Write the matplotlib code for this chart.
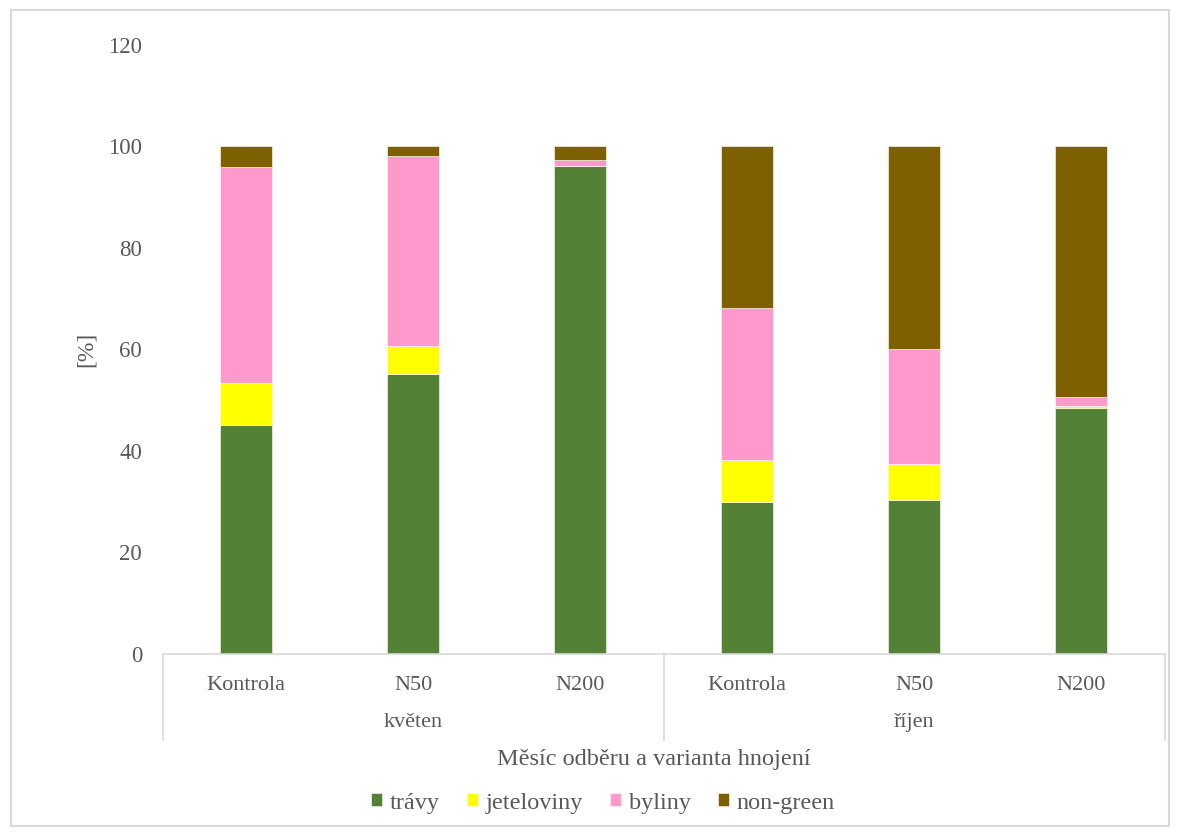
import numpy as np
import matplotlib.pyplot as plt
from matplotlib.patches import Rectangle

plt.rcParams['font.family'] = ['Liberation Serif', 'DejaVu Serif']

# skupiny a varianty hnojeni
mesice = ['květen', 'říjen']
varianty = ['Kontrola', 'N50', 'N200']
labels = varianty * 2

# podil skupin [%]
travy = [45.2, 55.2, 96.2, 30.0, 30.4, 48.5]
jeteloviny = [8.1, 5.5, 0.0, 8.3, 7.1, 0.4]
byliny = [42.6, 37.5, 1.1, 29.9, 22.5, 1.8]
nongreen = [4.1, 1.8, 2.7, 31.8, 40.0, 49.3]

series = [travy, jeteloviny, byliny, nongreen]
names = ['trávy', 'jeteloviny', 'byliny', 'non-green']
colors = ['#538135', '#FFFF00', '#FF99CC', '#7F6000']

txt = '#595959'
grid = '#D9D9D9'

fig = plt.figure(figsize=(11.8, 8.33), dpi=100)
ax = fig.add_axes([0.138, 0.215, 0.849, 0.731])

x = np.arange(len(labels))
bottom = np.zeros(len(labels))
for vals, name, c in zip(series, names, colors):
    ax.bar(x, vals, 0.31, bottom=bottom, color=c, label=name,
           edgecolor='white', linewidth=0.4)
    bottom += np.array(vals)

ax.set_xlim(-0.5, 5.5)
ax.set_ylim(0, 120)
ax.set_yticks(np.arange(0, 121, 20))
ax.tick_params(axis='y', length=0, labelsize=16.5, labelcolor=txt, pad=15)
ax.set_xticks(x)
ax.set_xticklabels(labels)
ax.tick_params(axis='x', length=0, labelsize=16, labelcolor=txt, pad=16)

for s in ['top', 'right', 'left']:
    ax.spines[s].set_visible(False)
ax.spines['bottom'].set_color(grid)
ax.spines['bottom'].set_linewidth(1.2)

# svisle oddelovace skupin
trans = ax.get_xaxis_transform()
for xs in [-0.5, 2.5, 5.5]:
    ax.plot([xs, xs], [0, -0.141], transform=trans, color=grid, lw=1.2, clip_on=False)
for i, m in enumerate(mesice):
    ax.text(1 + 3 * i, -0.112, m, transform=trans, ha='center', va='center',
            fontsize=16, color=txt)

ax.set_ylabel('[%]', fontsize=17, color=txt, labelpad=8)
fig.text(0.554, 0.088, 'Měsíc odběru a varianta hnojení', ha='center', va='center',
         fontsize=17.5, color=txt)

fig.legend(loc='center', bbox_to_anchor=(0.511, 0.036), ncol=4, frameon=False,
           fontsize=17.5, labelcolor=txt, handlelength=0.45, handleheight=0.45,
           handletextpad=0.33, columnspacing=1.1)

fig.patches.append(Rectangle((0.009, 0.009), 0.982, 0.979, transform=fig.transFigure,
                             fill=False, edgecolor=grid, lw=1.5))

fig.savefig('out.png', dpi=100)
